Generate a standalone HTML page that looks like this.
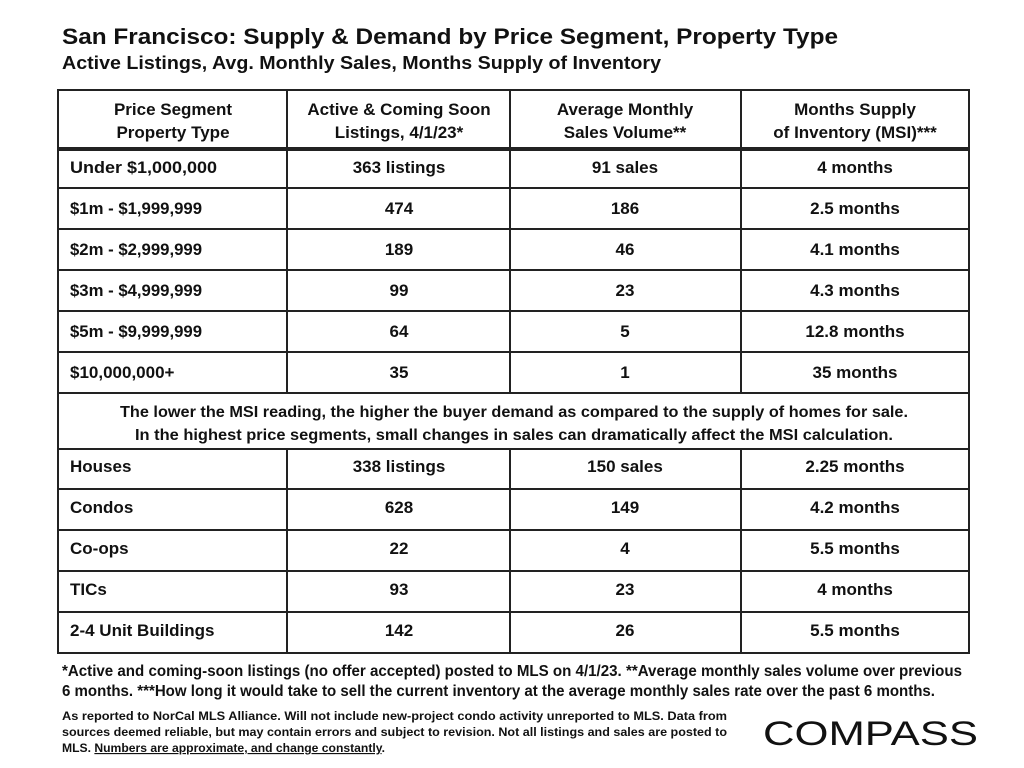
<!DOCTYPE html>
<html><head><meta charset="utf-8"><style>
html,body{margin:0;padding:0;background:#fff;}
svg{display:block;}
text{font-family:"Liberation Sans",sans-serif;font-weight:bold;fill:#111;}
</style></head><body>
<svg width="1024" height="768" viewBox="0 0 1024 768" xmlns="http://www.w3.org/2000/svg">
<text x="62" y="44" font-size="22" textLength="776" lengthAdjust="spacingAndGlyphs">San Francisco: Supply &amp; Demand by Price Segment, Property Type</text>
<text x="62" y="69" font-size="18" textLength="599" lengthAdjust="spacingAndGlyphs">Active Listings, Avg. Monthly Sales, Months Supply of Inventory</text>
<g stroke="#222" stroke-width="2" fill="none">
<rect x="58" y="90" width="911" height="563"/>
<line x1="58" y1="149" x2="969" y2="149" stroke-width="4"/>
<line x1="58" y1="188" x2="969" y2="188"/>
<line x1="58" y1="229" x2="969" y2="229"/>
<line x1="58" y1="270" x2="969" y2="270"/>
<line x1="58" y1="311" x2="969" y2="311"/>
<line x1="58" y1="352" x2="969" y2="352"/>
<line x1="58" y1="393" x2="969" y2="393"/>
<line x1="58" y1="449" x2="969" y2="449"/>
<line x1="58" y1="489" x2="969" y2="489"/>
<line x1="58" y1="530" x2="969" y2="530"/>
<line x1="58" y1="571" x2="969" y2="571"/>
<line x1="58" y1="612" x2="969" y2="612"/>
<line x1="287" y1="90" x2="287" y2="393"/><line x1="510" y1="90" x2="510" y2="393"/><line x1="741" y1="90" x2="741" y2="393"/>
<line x1="287" y1="449" x2="287" y2="653"/><line x1="510" y1="449" x2="510" y2="653"/><line x1="741" y1="449" x2="741" y2="653"/>
</g>
<g font-size="17" text-anchor="middle">
<text x="173" y="115">Price Segment</text><text x="173" y="138">Property Type</text>
<text x="399" y="115">Active &amp; Coming Soon</text><text x="399" y="138">Listings, 4/1/23*</text>
<text x="625" y="115">Average Monthly</text><text x="625" y="138">Sales Volume**</text>
<text x="855" y="115">Months Supply</text><text x="855" y="138">of Inventory (MSI)***</text>
</g>
<g font-size="17">
<text x="70" y="173" textLength="147" lengthAdjust="spacingAndGlyphs">Under $1,000,000</text>
<text x="70" y="214" textLength="132" lengthAdjust="spacingAndGlyphs">$1m - $1,999,999</text>
<text x="70" y="255" textLength="132" lengthAdjust="spacingAndGlyphs">$2m - $2,999,999</text>
<text x="70" y="296" textLength="132" lengthAdjust="spacingAndGlyphs">$3m - $4,999,999</text>
<text x="70" y="337" textLength="132" lengthAdjust="spacingAndGlyphs">$5m - $9,999,999</text>
<text x="70" y="378">$10,000,000+</text>
<text x="70" y="472">Houses</text>
<text x="70" y="513">Condos</text>
<text x="70" y="554">Co-ops</text>
<text x="70" y="595">TICs</text>
<text x="70" y="636">2-4 Unit Buildings</text>
</g>
<g font-size="17" text-anchor="middle">
<text x="399" y="173">363 listings</text><text x="625" y="173">91 sales</text><text x="855" y="173">4 months</text>
<text x="399" y="214">474</text><text x="625" y="214">186</text><text x="855" y="214">2.5 months</text>
<text x="399" y="255">189</text><text x="625" y="255">46</text><text x="855" y="255">4.1 months</text>
<text x="399" y="296">99</text><text x="625" y="296">23</text><text x="855" y="296">4.3 months</text>
<text x="399" y="337">64</text><text x="625" y="337">5</text><text x="855" y="337">12.8 months</text>
<text x="399" y="378">35</text><text x="625" y="378">1</text><text x="855" y="378">35 months</text>
<text x="399" y="472">338 listings</text><text x="625" y="472">150 sales</text><text x="855" y="472">2.25 months</text>
<text x="399" y="513">628</text><text x="625" y="513">149</text><text x="855" y="513">4.2 months</text>
<text x="399" y="554">22</text><text x="625" y="554">4</text><text x="855" y="554">5.5 months</text>
<text x="399" y="595">93</text><text x="625" y="595">23</text><text x="855" y="595">4 months</text>
<text x="399" y="636">142</text><text x="625" y="636">26</text><text x="855" y="636">5.5 months</text>
</g>
<text x="120" y="417" font-size="15.5" textLength="788" lengthAdjust="spacingAndGlyphs">The lower the MSI reading, the higher the buyer demand as compared to the supply of homes for sale.</text>
<text x="135" y="440" font-size="15.5" textLength="758" lengthAdjust="spacingAndGlyphs">In the highest price segments, small changes in sales can dramatically affect the MSI calculation.</text>
<text x="62" y="676" font-size="15.5" textLength="900" lengthAdjust="spacingAndGlyphs">*Active and coming-soon listings (no offer accepted) posted to MLS on 4/1/23. **Average monthly sales volume over previous</text>
<text x="62" y="696" font-size="15.5" textLength="873" lengthAdjust="spacingAndGlyphs">6 months. ***How long it would take to sell the current inventory at the average monthly sales rate over the past 6 months.</text>
<g font-size="11.5">
<text x="62" y="720" textLength="665" lengthAdjust="spacingAndGlyphs">As reported to NorCal MLS Alliance.  Will not include new-project condo activity unreported to MLS. Data from</text>
<text x="62" y="736" textLength="665" lengthAdjust="spacingAndGlyphs">sources deemed reliable, but may contain errors and subject to revision.  Not all listings and sales are posted to</text>
<text x="62" y="752" textLength="323" lengthAdjust="spacingAndGlyphs">MLS. <tspan text-decoration="underline">Numbers are approximate, and change constantly</tspan>.</text>
</g>
<text x="763" y="745" font-size="34" style="font-weight:normal" textLength="215" lengthAdjust="spacingAndGlyphs">COMPASS</text>
</svg>
</body></html>
